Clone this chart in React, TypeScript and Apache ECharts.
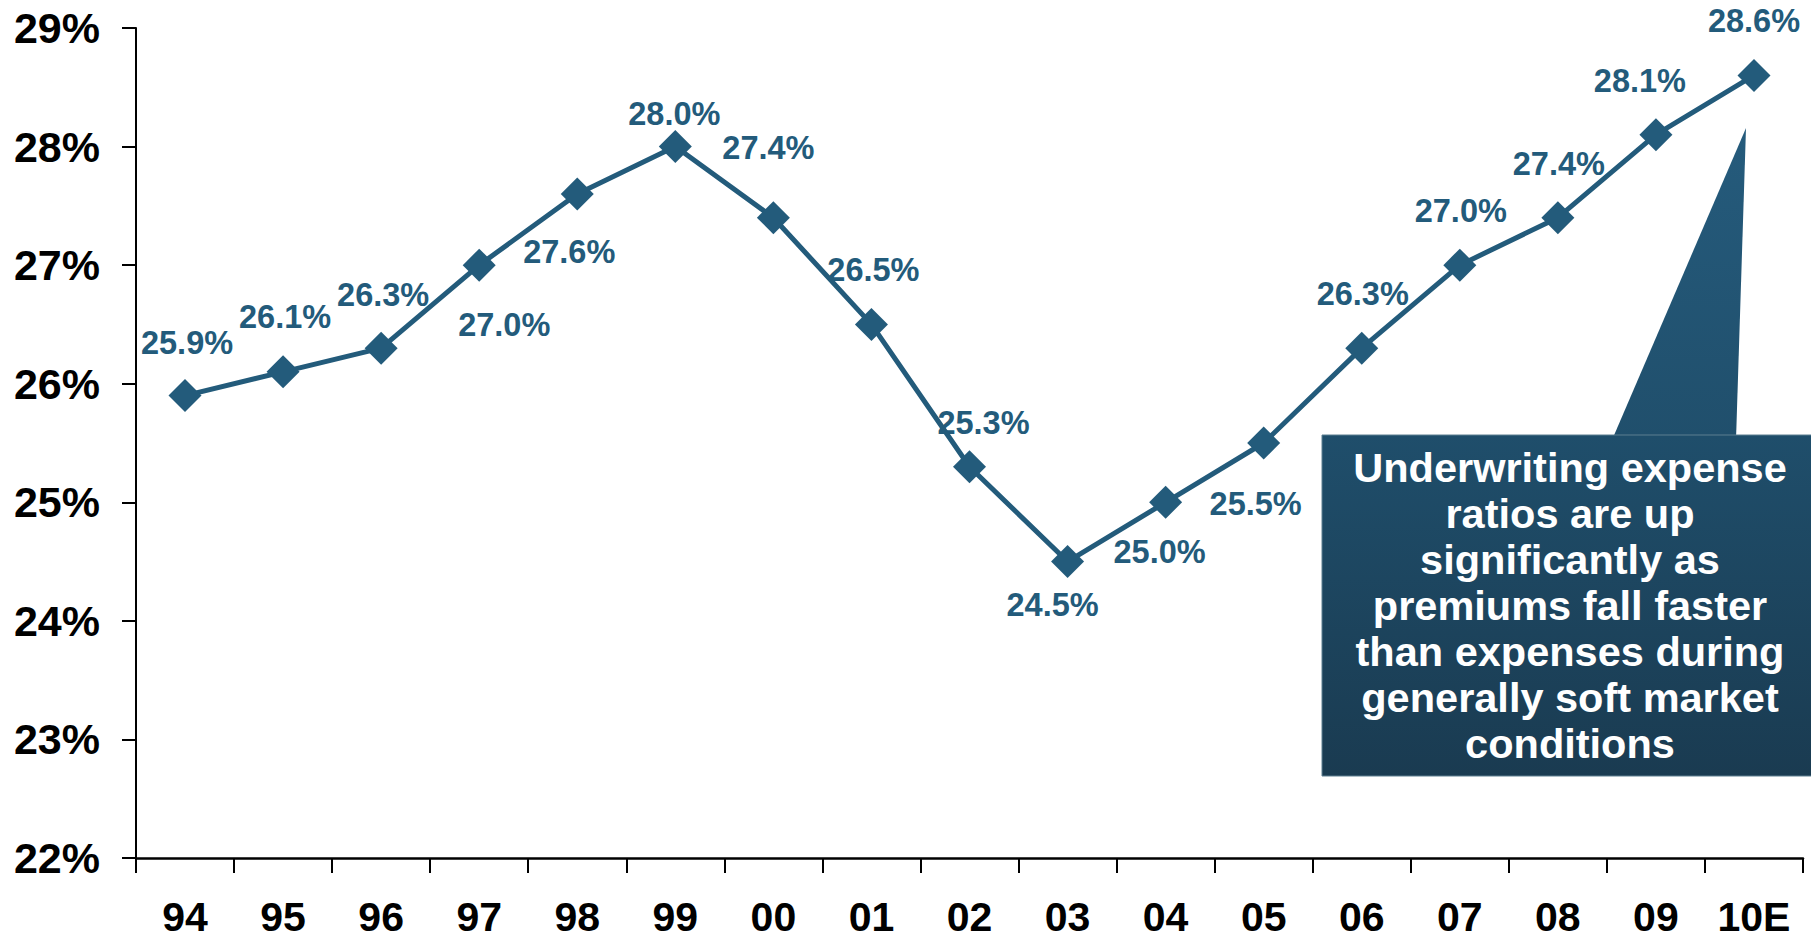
import React, { useEffect, useRef } from "react";
import * as echarts from "echarts";

const years = ["94", "95", "96", "97", "98", "99", "00", "01", "02", "03", "04", "05", "06", "07", "08", "09", "10E"];
const ratios = [25.9, 26.1, 26.3, 27.0, 27.6, 28.0, 27.4, 26.5, 25.3, 24.5, 25.0, 25.5, 26.3, 27.0, 27.4, 28.1, 28.6];
const labelOffsets: [number, number][] = [
  [2, -53], [2, -55], [2, -53], [25, 60], [-8, 58], [-1, -33], [-5, -70], [2, -54], [14, -44],
  [-15, 43], [-6, 50], [-8, 61], [1, -54], [1, -54], [1, -54], [-16, -54], [0, -54],
];
const yTicks = { min: 22, max: 29, interval: 1 };
const calloutText =
  "Underwriting expense\nratios are up\nsignificantly as\npremiums fall faster\nthan expenses during\ngenerally soft market\nconditions";

const LINE_COLOR = "#235b7b";
const FONT = "'Liberation Sans', Arial, sans-serif";

export default function App() {
  const ref = useRef<HTMLDivElement>(null);
  useEffect(() => {
    if (!ref.current) return;
    const chart = echarts.init(ref.current, undefined, { renderer: "svg" });
    chart.setOption({
      animation: false,
      backgroundColor: "#ffffff",
      grid: { left: 136, right: 8, top: 28, bottom: 82, containLabel: false },
      xAxis: {
        type: "category",
        data: years,
        boundaryGap: true,
        axisLine: { show: true, lineStyle: { color: "#000", width: 2.5 } },
        axisTick: { show: true, length: 15, alignWithLabel: false, lineStyle: { color: "#000", width: 2 } },
        axisLabel: {
          margin: 41,
          color: "#000",
          fontSize: 41,
          lineHeight: 36,
          fontWeight: "bold",
          fontFamily: FONT,
        },
        splitLine: { show: false },
      },
      yAxis: {
        type: "value",
        min: yTicks.min,
        max: yTicks.max,
        interval: yTicks.interval,
        axisLine: { show: true, lineStyle: { color: "#000", width: 2 } },
        axisTick: { show: true, length: 14, lineStyle: { color: "#000", width: 2 } },
        axisLabel: {
          margin: 36,
          color: "#000",
          fontSize: 43,
          fontWeight: "bold",
          fontFamily: FONT,
          formatter: "{value}%",
        },
        splitLine: { show: false },
      },
      series: [
        {
          type: "line",
          data: ratios.map((v, i) => ({
            value: v,
            label: {
              show: true,
              position: "inside",
              offset: labelOffsets[i],
              align: "center",
              verticalAlign: "middle",
            },
          })),
          lineStyle: { color: LINE_COLOR, width: 5 },
          itemStyle: { color: LINE_COLOR },
          symbol: "diamond",
          symbolSize: 33,
          z: 3,
          label: {
            show: true,
            color: LINE_COLOR,
            fontSize: 32.5,
            fontWeight: "bold",
            fontFamily: FONT,
            formatter: (p: any) => `${Number(p.value).toFixed(1)}%`,
          },
        },
      ],
      graphic: [
        {
          type: "polygon",
          z: 10,
          shape: { points: [[1746, 128], [1736, 440], [1612, 440]] },
          style: {
            fill: new echarts.graphic.LinearGradient(0, 0, 0, 1, [
              { offset: 0, color: "#255b7c" },
              { offset: 1, color: "#204f6c" },
            ]),
          },
        },
        {
          type: "rect",
          z: 11,
          shape: { x: 1322, y: 435, width: 495, height: 341 },
          style: {
            fill: new echarts.graphic.LinearGradient(0, 0, 0, 1, [
              { offset: 0, color: "#1f4e6b" },
              { offset: 1, color: "#1a3b51" },
            ]),
            stroke: "#5d7f90",
            lineWidth: 1,
          },
        },
        {
          type: "text",
          z: 12,
          x: 1570,
          y: 605,
          style: {
            text: calloutText,
            fill: "#ffffff",
            font: `bold 41.5px ${FONT}`,
            lineHeight: 46,
            align: "center",
            verticalAlign: "middle",
          },
        },
      ],
    });
    return () => chart.dispose();
  }, []);
  return <div ref={ref} style={{ position: "absolute", left: 0, top: 0, width: 1811, height: 940 }} />;
}
